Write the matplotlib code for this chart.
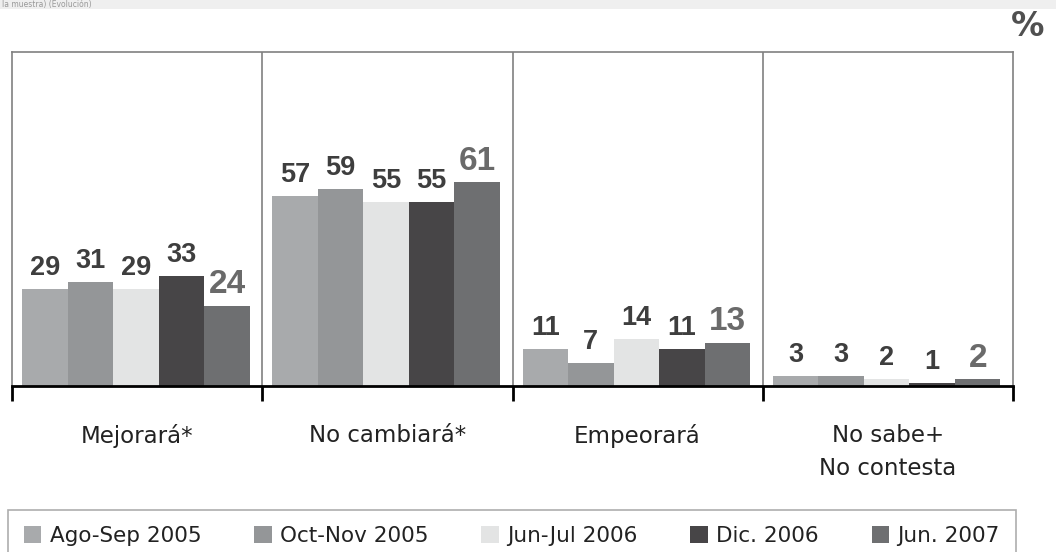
import matplotlib.pyplot as plt
import matplotlib.patches as mpatches
import numpy as np

# categorias y series
categorias = ["Mejorará*", "No cambiará*", "Empeorará", "No sabe+\nNo contesta"]
periodos = ["Ago-Sep 2005", "Oct-Nov 2005", "Jun-Jul 2006", "Dic. 2006", "Jun. 2007"]
ago_sep_2005 = [29, 57, 11, 3]
oct_nov_2005 = [31, 59, 7, 3]
jun_jul_2006 = [29, 55, 14, 2]
dic_2006 = [33, 55, 11, 1]
jun_2007 = [24, 61, 13, 2]
series = [ago_sep_2005, oct_nov_2005, jun_jul_2006, dic_2006, jun_2007]
colores = ["#a8aaac", "#949698", "#e3e4e4", "#474547", "#6e6f71"]

fig = plt.figure(figsize=(10.56, 5.52), dpi=100)
ax = fig.add_axes([12/1056, 1-386/552, (1013-12)/1056, (386-52)/552])

# franja gris superior (titulo cortado)
fig.patches.append(mpatches.Rectangle((0, 1-9/552), 1, 9/552, transform=fig.transFigure,
                                      facecolor="#efefef", edgecolor="none"))
fig.text(0.002, 1-4.5/552, "la muestra) (Evolución)", fontsize=5.5, color="#999999",
         va="center", ha="left")

ancho = 0.182
x = np.arange(len(categorias))
for i, (vals, col) in enumerate(zip(series, colores)):
    pos = x + 0.04 + ancho/2 + i*ancho
    ax.bar(pos, vals, width=ancho, color=col, edgecolor="none", label=periodos[i])
    for p, v in zip(pos, vals):
        if i == 4:
            ax.text(p, v + 1.6, str(v), ha="center", va="bottom", fontsize=24,
                    fontweight="bold", color="#6a6a6a", family="Liberation Sans")
        else:
            ax.text(p, v + 2.4, str(v), ha="center", va="bottom", fontsize=19.5,
                    fontweight="bold", color="#3e3e3e", family="Liberation Sans")

ax.set_xlim(0, 4)
ax.set_ylim(0, 100)
for s in [1, 2, 3]:
    ax.axvline(s, color="#808080", lw=1.2)
for sp in ["top", "left", "right"]:
    ax.spines[sp].set_color("#808080")
    ax.spines[sp].set_linewidth(1.2)
ax.spines["bottom"].set_color("black")
ax.spines["bottom"].set_linewidth(2)
ax.set_yticks([])
ax.set_xticks([0, 1, 2, 3, 4])
ax.set_xticklabels([])
ax.tick_params(axis="x", length=11, width=2, color="black", direction="out")
for c, lab in enumerate(categorias):
    ax.text(c + 0.5, -11.5, lab, ha="center", va="top", fontsize=16.5,
            color="#222222", linespacing=1.55)

fig.text(1028/1056, 1-27/552, "%", fontsize=24, fontweight="bold", color="#505050",
         va="center", ha="center")

leg = fig.legend(ncol=5, loc="center", bbox_to_anchor=(512/1056, 1-536/552),
                 frameon=True, fancybox=False, fontsize=15.5,
                 handlelength=0.8, handleheight=0.8, handletextpad=0.4,
                 columnspacing=2.45, borderpad=0.75, borderaxespad=0,
                 labelcolor="#222222")
leg.get_frame().set_edgecolor("#999999")
leg.get_frame().set_linewidth(1.2)

fig.savefig("out.png", dpi=100)
